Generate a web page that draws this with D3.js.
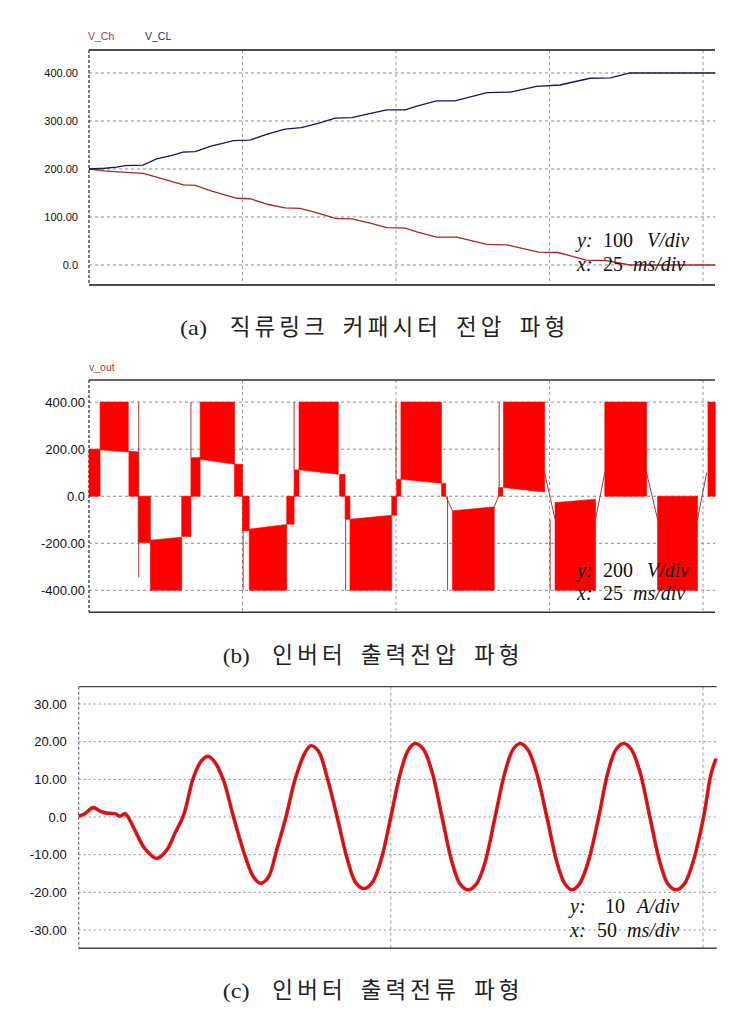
<!DOCTYPE html>
<html>
<head>
<meta charset="utf-8">
<script src="https://cdn.jsdelivr.net/npm/d3@7"></script>
<style>
  body { margin: 0; background: #fff; }
</style>
</head>
<body>
<script>
// ---- data (time in ms) ----
// (a) capacitor voltages
var vCL = [[0,200],[2.6,201.5],[4.5,204],[5.9,207],[8.8,208],[11.0,221],[13.7,229],[15.3,235],[17.3,236],
  [20.0,248],[21.6,253],[23.5,259],[26.2,260],[28.9,272],[31.9,283],[34.6,286],[37.3,295],[40.1,306],
  [42.8,307],[45.5,315],[48.5,323],[51.5,323],[53.4,331],[56.6,342],[59.6,342],[64.8,359],[68.6,360],
  [72.9,372],[76.7,375],[81.6,389],[84.9,390],[88.1,400],[102,400]];
var vCh = [[0,200],[2.6,196],[4.8,194],[8.8,191],[11.0,183],[15.4,167],[17.3,166],[20.0,154],[24.1,139],
  [26.2,138],[29.2,126],[31.9,119],[34.4,118],[37.3,108],[40.1,97],[42.8,96],[45.8,87],[48.5,78],
  [51.5,77],[53.4,69],[56.6,58],[59.9,58],[64.8,43],[68.0,42],[73.2,27],[76.4,26],[81.0,10],[84.3,9],
  [88.1,0],[102,0]];

// (b) inverter output voltage: PWM blocks [t0, t1, low0, low1, high0, high1]
var vOutBlocks = [
  [0,1.8,0,0,200,200],[1.8,6.4,197,188,400,400],[6.5,8.1,0,0,192,188],[8.0,10.0,-197,-197,0,0],
  [10.0,15.1,-400,-400,-187,-174],[15.1,16.6,-171,-171,0,0],[16.6,18.1,0,0,164,164],
  [18.1,23.7,157,136,400,400],[23.7,25.0,0,0,136,136],[25.0,26.1,-147,-147,0,0],
  [26.1,32.2,-400,-400,-140,-120],[32.2,33.4,-119,-119,0,0],[33.4,34.2,0,0,112,112],
  [34.2,40.6,112,93,400,400],[40.8,41.7,0,0,93,93],[41.7,42.5,-98,-98,0,0],
  [42.5,49.3,-400,-400,-98,-81],[49.3,50.1,-81,-81,0,0],[50.1,50.8,0,0,72,72],
  [50.8,57.4,72,55,400,400],[57.4,58.1,0,0,55,55],[59.2,66.0,-400,-400,-62,-45],
  [66.7,67.4,0,0,37,37],[67.5,74.2,37,18,400,400],[75.9,82.5,-400,-400,-27,-13],
  [84.0,90.8,0,0,400,400],[92.6,99.1,-400,-400,0,0],[100.8,102,0,0,400,400]];
// thin switching spikes [t, v0, v1]
var vOutSpikes = [[8.1,400,-345],[16.6,400,164],[25.1,-147,-400],[33.4,400,112],[41.8,0,-400],
  [50.0,400,72],[58.4,0,-400],[66.8,400,0],[75.1,-98,-400]];
// slanted transition traces
var vOutSlants = [
  [[58.1,0],[59.2,-62]], [[66.0,-45],[66.7,0]], [[74.2,100],[75.9,-98]],
  [[82.5,-98],[84.0,100]], [[90.8,100],[92.6,-98]], [[99.1,-98],[100.6,100]]];

// (c) inverter output current
var iOut = [[0,0.2],[1.0,0.9],[2.3,2.5],[3.4,1.6],[4.2,1.1],[5.8,0.9],[6.6,0.2],[7.4,0.9],[7.9,0],
  [9.0,-3.5],[10.6,-8.4],[12.5,-11],[14.1,-8.8],[15.4,-4.4],[16.8,0.5],[18.4,10.6],[19.7,15],
  [20.7,16.1],[21.8,14.6],[23.2,9.7],[24.8,0],[26.7,-10.6],[28.0,-15.9],[29.1,-17.6],[30.4,-15.9],
  [31.7,-8.8],[33.2,0],[34.7,10.2],[36.3,17.2],[37.2,18.9],[38.4,17.5],[39.8,10.5],[41.4,0],
  [43.0,-11],[44.4,-17.5],[45.7,-19],[47.0,-17.5],[48.5,-11],[50.0,0],[51.5,11.5],[52.8,17.8],
  [53.9,19.5],[55.2,18],[56.6,12],[58.2,0],[59.8,-12],[61.1,-17.8],[62.4,-19.3],[63.7,-17.8],
  [65.1,-12],[66.7,0],[68.3,12],[69.6,18],[70.7,19.5],[71.9,18],[73.3,12],[75.0,0],[76.6,-12],
  [77.9,-17.8],[79.0,-19.3],[80.2,-17.8],[81.6,-12],[83.3,0],[84.8,12],[86.1,18],[87.3,19.5],
  [88.5,18],[89.9,12],[91.5,0],[93.1,-12],[94.4,-17.8],[95.7,-19.3],[97.0,-17.8],[98.4,-12],
  [100.1,0],[101.3,11.5],[102.1,15.5]];

// ticks
var ticksA = [0,100,200,300,400], labelsA = ["0.0","100.00","200.00","300.00","400.00"];
var ticksB = [-400,-200,0,200,400], labelsB = ["-400.00","-200.00","0.0","200.00","400.00"];
var ticksC = [-30,-20,-10,0,10,20,30], labelsC = ["-30.00","-20.00","-10.00","0.0","10.00","20.00","30.00"];
var gridAB = [25,50,75,100], gridC = [50,100];

var svg = d3.select("body").append("svg")
    .attr("width", 755)
    .attr("height", 1027);

function panel(p) {
  var x = d3.scaleLinear().domain(p.xDomain).range([p.left, p.right]);
  var y = d3.scaleLinear().domain(p.yDomain).range([p.bottom, p.top]);
  var g = svg.append("g");

  // horizontal grid
  g.selectAll(".hg").data(p.yTicks).enter().append("line")
      .attr("x1", p.left).attr("x2", p.right)
      .attr("y1", function(d) { return y(d); }).attr("y2", function(d) { return y(d); })
      .attr("stroke", "#8a8a8a").attr("stroke-width", 1)
      .attr("stroke-dasharray", p.hDash);
  // vertical grid
  g.selectAll(".vg").data(p.xGrid).enter().append("line")
      .attr("x1", function(d) { return x(d); }).attr("x2", function(d) { return x(d); })
      .attr("y1", p.top).attr("y2", p.bottom)
      .attr("stroke", "#9a9a9a").attr("stroke-width", 1)
      .attr("stroke-dasharray", "3,3");

  // frame: solid top/bottom, dashed left
  g.append("line").attr("x1", p.left).attr("x2", p.right).attr("y1", p.top).attr("y2", p.top)
      .attr("stroke", p.frame).attr("stroke-width", 1.3);
  g.append("line").attr("x1", p.left).attr("x2", p.right).attr("y1", p.bottom).attr("y2", p.bottom)
      .attr("stroke", p.frame).attr("stroke-width", 1.5);
  g.append("line").attr("x1", p.left).attr("x2", p.left).attr("y1", p.top).attr("y2", p.bottom)
      .attr("stroke", p.leftColor).attr("stroke-width", 1.2).attr("stroke-dasharray", "3,2");

  // y axis labels
  var axis = d3.axisLeft(y).tickValues(p.yTicks)
      .tickFormat(function(d, i) { return p.yLabels[i]; })
      .tickSize(0).tickPadding(p.pad);
  var ag = g.append("g").attr("transform", "translate(" + p.left + ",0)").call(axis);
  ag.select(".domain").remove();
  ag.selectAll("text")
      .attr("font-family", p.labelFont)
      .attr("font-size", p.labelSize)
      .attr("fill", "#111");

  return { x: x, y: y, g: g };
}

function scaleNote(lines) {
  lines.forEach(function(l) {
    var t = svg.append("text").attr("y", l.y)
        .attr("font-family", "'Liberation Serif','Times New Roman',serif")
        .attr("font-size", 20).attr("fill", "#111");
    t.append("tspan").attr("x", l.x[0]).attr("font-style", "italic").text(l.a);
    t.append("tspan").attr("x", l.x[1]).text(l.b);
    t.append("tspan").attr("x", l.x[2]).attr("font-style", "italic").text(l.c);
  });
}

function caption(tag, words, x0, base) {
  var g = svg.append("g");
  g.append("text").attr("x", x0).attr("y", base)
      .attr("font-family", "'Liberation Serif',serif").attr("font-size", 22)
      .attr("textLength", 27).attr("lengthAdjust", "spacingAndGlyphs")
      .attr("fill", "#222").text(tag);
  var cur = x0 + 36;
  words.forEach(function(w) {
    cur += 14;
    w.split("").forEach(function(ch) {
      g.append("text").attr("x", cur + 10).attr("y", base)
          .attr("text-anchor", "middle")
          .attr("font-family", "'Noto Sans CJK KR',sans-serif").attr("font-size", 22.5)
          .attr("fill", "#222").text(ch);
      cur += 24.8;
    });
  });
}

// ---------- (a) ----------
var pa = panel({ left: 89, right: 715, top: 50, bottom: 285,
  xDomain: [0, 101.95], yDomain: [-41.7, 447.9],
  yTicks: ticksA, yLabels: labelsA, xGrid: gridAB, hDash: "3,3",
  frame: "#111", leftColor: "#222", pad: 11,
  labelFont: "'Liberation Sans',Arial,sans-serif", labelSize: 11 });

var lineA = d3.line().x(function(d) { return pa.x(d[0]); }).y(function(d) { return pa.y(d[1]); });
pa.g.append("path").datum(vCh).attr("d", lineA)
    .attr("fill", "none").attr("stroke", "#a3262a").attr("stroke-width", 1.3);
pa.g.append("path").datum(vCL).attr("d", lineA)
    .attr("fill", "none").attr("stroke", "#16165e").attr("stroke-width", 1.3);

svg.append("text").attr("x", 88).attr("y", 40)
    .attr("font-family", "'Liberation Sans',Arial,sans-serif").attr("font-size", 10.5)
    .attr("fill", "#a33a3a").text("V_Ch");
svg.append("text").attr("x", 145).attr("y", 40)
    .attr("font-family", "'Liberation Sans',Arial,sans-serif").attr("font-size", 10.5)
    .attr("fill", "#2a2a66").text("V_CL");

scaleNote([
  { y: 247, x: [577, 603, 647], a: "y:", b: "100", c: "V/div" },
  { y: 271, x: [577, 603, 633], a: "x:", b: "25", c: "ms/div" }]);

caption("(a)", ["직류링크", "커패시터", "전압", "파형"], 180, 335);

// ---------- (b) ----------
var pb = panel({ left: 89, right: 715, top: 380, bottom: 612.3,
  xDomain: [0, 101.95], yDomain: [-493.4, 494],
  yTicks: ticksB, yLabels: labelsB, xGrid: gridAB, hDash: "3,3",
  frame: "#333", leftColor: "#222", pad: 4,
  labelFont: "'Liberation Sans',Arial,sans-serif", labelSize: 13 });

var areaB = d3.area()
    .x(function(d) { return pb.x(d[0]); })
    .y0(function(d) { return pb.y(d[1]); })
    .y1(function(d) { return pb.y(d[2]); });
pb.g.selectAll(".blk").data(vOutBlocks).enter().append("path")
    .attr("d", function(b) { return areaB([[b[0], b[2], b[4]], [b[1], b[3], b[5]]]); })
    .attr("fill", "#ff0000").attr("stroke", "#ff0000").attr("stroke-width", 0.6);
pb.g.selectAll(".spk").data(vOutSpikes).enter().append("line")
    .attr("x1", function(d) { return pb.x(d[0]); }).attr("x2", function(d) { return pb.x(d[0]); })
    .attr("y1", function(d) { return pb.y(d[1]); }).attr("y2", function(d) { return pb.y(d[2]); })
    .attr("stroke", "#b83030").attr("stroke-width", 1);
var lineB = d3.line().x(function(d) { return pb.x(d[0]); }).y(function(d) { return pb.y(d[1]); });
pb.g.selectAll(".sl").data(vOutSlants).enter().append("path")
    .attr("d", lineB).attr("fill", "none").attr("stroke", "#b83030").attr("stroke-width", 1);

svg.append("text").attr("x", 89).attr("y", 371)
    .attr("font-family", "'Liberation Sans',Arial,sans-serif").attr("font-size", 10.5)
    .attr("fill", "#a33a3a").text("v_out");

scaleNote([
  { y: 577, x: [577, 603, 647], a: "y:", b: "200", c: "V/div" },
  { y: 600, x: [577, 603, 633], a: "x:", b: "25", c: "ms/div" }]);

caption("(b)", ["인버터", "출력전압", "파형"], 222.7, 663);

// ---------- (c) ----------
var pc = panel({ left: 78.7, right: 716.7, top: 686.7, bottom: 948.3,
  xDomain: [0, 102.2], yDomain: [-34.86, 34.6],
  yTicks: ticksC, yLabels: labelsC, xGrid: gridC, hDash: "2,3",
  frame: "#444", leftColor: "#777", pad: 12,
  labelFont: "'Liberation Sans Narrow','Arial Narrow',sans-serif", labelSize: 13 });

var lineC = d3.line().curve(d3.curveCatmullRom.alpha(0.5))
    .x(function(d) { return pc.x(d[0]); }).y(function(d) { return pc.y(d[1]); });
pc.g.append("path").datum(iOut).attr("d", lineC)
    .attr("fill", "none").attr("stroke", "#e8161a").attr("stroke-width", 3.6)
    .attr("stroke-linejoin", "round");
pc.g.append("path").datum(iOut).attr("d", lineC)
    .attr("fill", "none").attr("stroke", "#a81010").attr("stroke-width", 0.8);

scaleNote([
  { y: 913, x: [570, 605, 637], a: "y:", b: "10", c: "A/div" },
  { y: 937, x: [570, 597, 627], a: "x:", b: "50", c: "ms/div" }]);

caption("(c)", ["인버터", "출력전류", "파형"], 222.7, 998);
</script>
</body>
</html>
